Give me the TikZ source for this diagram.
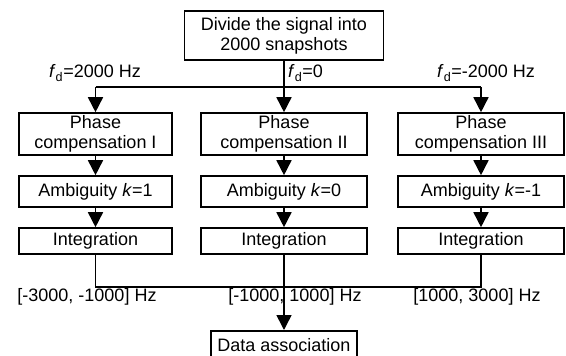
\documentclass[tikz,border=0pt]{standalone}
\usepackage{fontspec}
\setmainfont{Liberation Sans}
\usetikzlibrary{arrows.meta}
\begin{document}
\begin{tikzpicture}[x=1pt,y=-1pt,
  box/.style={draw, line width=1.6pt, inner sep=0pt, align=center,
    font=\fontsize{18}{20}\selectfont},
  lbl/.style={inner sep=0pt, font=\fontsize{18}{20}\selectfont},
  conn/.style={line width=1.6pt},
  arr/.style={line width=1.6pt, -{Triangle[width=15pt,length=15pt]}}]
\useasboundingbox (0,0) rectangle (566,356);
\clip (0,0) rectangle (566,356);
% boxes
\node[box, minimum width=199pt, minimum height=49pt] (top) at (284,35.5) {Divide the signal into\\2000 snapshots};
\node[box, minimum width=153pt, minimum height=42pt] (p1) at (95.5,134) {Phase\\compensation I};
\node[box, minimum width=166pt, minimum height=42pt] (p2) at (284,134) {Phase\\compensation II};
\node[box, minimum width=166pt, minimum height=42pt] (p3) at (481,134) {Phase\\compensation III};
\node[box, minimum width=153pt, minimum height=31pt] (a1) at (95.5,191.5) {Ambiguity \textit{k}=1};
\node[box, minimum width=166pt, minimum height=31pt] (a2) at (284,191.5) {Ambiguity \textit{k}=0};
\node[box, minimum width=166pt, minimum height=31pt] (a3) at (481,191.5) {Ambiguity \textit{k}=-1};
\node[box, minimum width=153pt, minimum height=26pt] (i1) at (95.5,241) {Integration};
\node[box, minimum width=166pt, minimum height=26pt] (i2) at (284,241) {Integration};
\node[box, minimum width=166pt, minimum height=26pt] (i3) at (481,241) {Integration};
\node[box, minimum width=146pt, minimum height=28pt, anchor=north] (data) at (284,330) {Data association};
% labels
\node[lbl] (f1) at (95,73) {\textit{f}\textsubscript{d}=2000 Hz};
\node[lbl, anchor=west] (f2) at (288,73) {\textit{f}\textsubscript{d}=0};
\node[lbl] (f3) at (486,73) {\textit{f}\textsubscript{d}=-2000 Hz};
\node[lbl] (r1) at (87,297) {[-3000, -1000] Hz};
\node[lbl] (r2) at (295,297) {[-1000, 1000] Hz};
\node[lbl] (r3) at (477,297) {[1000, 3000] Hz};
% top bus
\coordinate (tb) at (284,87);
\coordinate (bb) at (284,287);
\draw[conn] (top.south) -- (tb);
\draw[conn] (p1.north |- tb) -- (p3.north |- tb);
\draw[arr] (p1.north |- tb) -- (p1.north);
\draw[arr] (tb) -- (p2.north);
\draw[arr] (p3.north |- tb) -- (p3.north);
% vertical chains
\draw[arr] (p1.south) -- (a1.north);
\draw[arr] (p2.south) -- (a2.north);
\draw[arr] (p3.south) -- (a3.north);
\draw[arr] (a1.south) -- (i1.north);
\draw[arr] (a2.south) -- (i2.north);
\draw[arr] (a3.south) -- (i3.north);
% bottom bus
\draw[conn] (i1.south) -- (i1.south |- bb) -- (i3.south |- bb) -- (i3.south);
\draw[arr] (i2.south) -- (data.north);
\end{tikzpicture}
\end{document}
